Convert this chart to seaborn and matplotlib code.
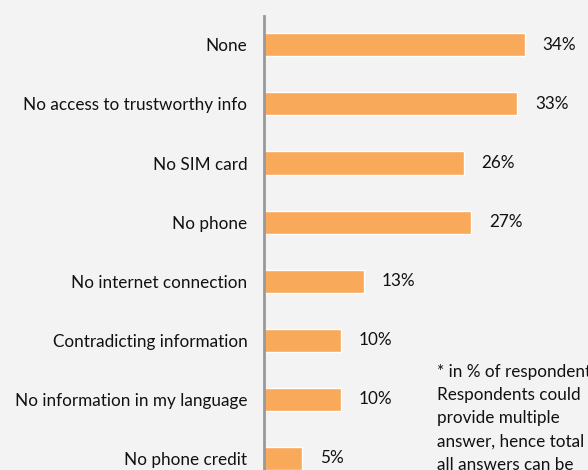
import pandas as pd
import seaborn as sns
import matplotlib.pyplot as plt

# Datos

categorias = [
    "None",
    "No access to trustworthy info",
    "No SIM card",
    "No phone",
    "No internet connection",
    "Contradicting information",
    "No information in my language",
    "No phone credit",
]
valores = [34, 33, 26, 27, 13, 10, 10, 5]
etiquetas = ["34%", "33%", "26%", "27%", "13%", "10%", "10%", "5%"]

nota = ("* in % of respondents\nRespondents could\nprovide multiple\n"
        "answer, hence total of\nall answers can be\nmore than 100%")

df = pd.DataFrame({"categoria": categorias, "valor": valores})

fondo = "#F3F3F3"
naranja = "#F9A95A"

sns.set_style("white")
plt.rcParams["font.family"] = ["Lato", "DejaVu Sans"]

fig = plt.figure(figsize=(5.88, 4.70), dpi=100, facecolor=fondo)
ax = fig.add_axes([264 / 588, 0, (588 - 264) / 588, (470 - 16) / 470])
ax.set_facecolor(fondo)

sns.barplot(data=df, x="valor", y="categoria", color=naranja,
            width=0.39, saturation=1, ax=ax)

ax.set_xlim(0, (588 - 264) / 7.68)
ax.set_ylim(7.2, -0.49)

for i, (v, t) in enumerate(zip(valores, etiquetas)):
    ax.text(v + 2.3, i, t, va="center", ha="left", fontsize=12.3, color="#111111")

for s in ["top", "right", "bottom"]:
    ax.spines[s].set_visible(False)
ax.spines["left"].set_color("#999999")
ax.spines["left"].set_linewidth(2)

ax.set_xticks([])
ax.tick_params(axis="y", length=0, pad=12, labelsize=12.3, labelcolor="#111111")
ax.set_xlabel("")
ax.set_ylabel("")

fig.text(437 / 588, 1 - 364 / 470, nota, fontsize=12.3, color="#111111",
         va="top", ha="left", linespacing=1.55)

plt.savefig("out.png", dpi=100, facecolor=fondo)
